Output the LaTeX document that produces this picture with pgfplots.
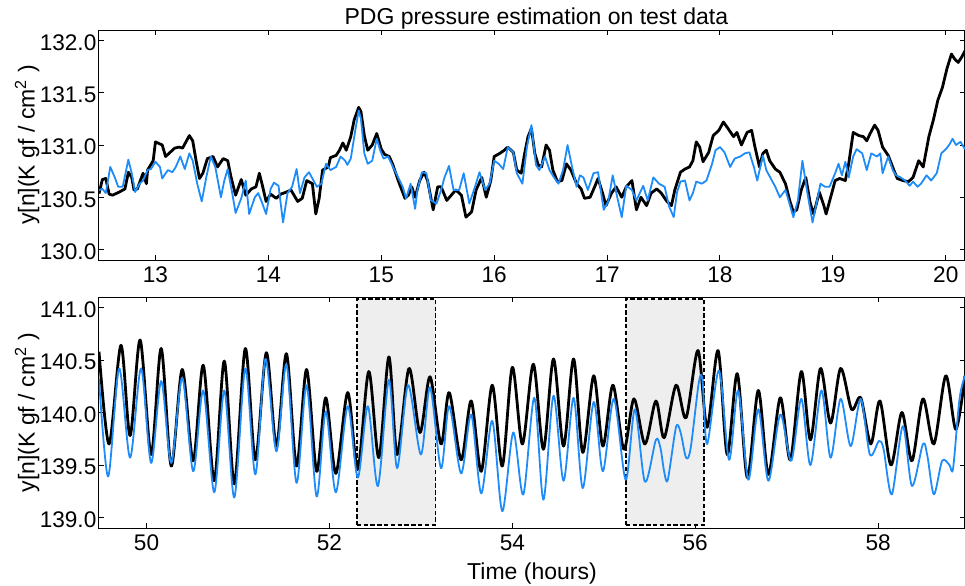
\documentclass[border=0pt]{standalone}
\usepackage{pgfplots}
\pgfplotsset{compat=1.18}
\usepackage{fontspec}
\setmainfont{Liberation Sans}
\definecolor{est}{RGB}{30,140,248}
\definecolor{shade}{RGB}{238,238,238}

\pgfplotsset{
  panel/.style={
    scale only axis, width=433pt,
    axis line style={black, line width=0.5pt},
    tick align=inside, major tick length=2.5pt,
    tick style={black, line width=0.5pt},
    xtick pos=both, ytick pos=both,
    /pgf/number format/assume math mode=true,
    tick label style={font=\fontsize{11.3}{13}\selectfont},
    label style={font=\fontsize{11.5}{13}\selectfont},
    ylabel style={at={(axis description cs:-0.083,0.5)}, anchor=center},
    yticklabel style={xshift=2.2pt, yshift=-1pt, /pgf/number format/fixed, /pgf/number format/fixed zerofill, /pgf/number format/precision=1},
  },
  truth/.style={black, line width=1.4pt, line join=round},
  pred/.style={est, line width=0.9pt, line join=round},
}

\begin{document}
\begin{tikzpicture}
\useasboundingbox (-49.5pt,-28.5pt) rectangle (433pt,264pt);

% ---------------- top panel ----------------
\begin{axis}[panel, at={(0,134pt)}, anchor=south west, height=115pt,
  xmin=12.5, xmax=20.17, ymin=129.9, ymax=132.1,
  xtick={13,14,15,16,17,18,19,20},
  ytick={130.0,130.5,131.0,131.5,132.0},
  ylabel={y[n](K gf / cm\textsuperscript{2} )},
  title={PDG pressure estimation on test data},
  title style={font=\fontsize{11.5}{13}\selectfont, at={(axis description cs:0.505,1)}, anchor=base, yshift=-3.4pt},
]
\addplot[truth] table {
12.50 130.535
12.53 130.67
12.56 130.68
12.59 130.53
12.62 130.52
12.68 130.55
12.73 130.58
12.76 130.74
12.79 130.69
12.81 130.57
12.84 130.58
12.89 130.73
12.92 130.63
12.93 130.76
12.98 130.85
13.00 131.03
13.04 131.01
13.06 131.00
13.09 130.89
13.12 130.92
13.17 130.97
13.21 130.98
13.24 130.97
13.30 131.09
13.33 131.04
13.36 130.85
13.39 130.68
13.42 130.73
13.46 130.87
13.51 130.89
13.55 130.79
13.60 130.87
13.64 130.85
13.67 130.69
13.71 130.52
13.76 130.67
13.80 130.52
13.85 130.58
13.89 130.60
13.92 130.73
13.95 130.60
13.98 130.46
14.02 130.53
14.07 130.49
14.11 130.53
14.16 130.55
14.20 130.57
14.26 130.46
14.30 130.49
14.34 130.66
14.39 130.63
14.42 130.34
14.45 130.49
14.48 130.76
14.53 130.79
14.55 130.88
14.60 130.90
14.63 130.95
14.66 131.02
14.69 130.95
14.73 131.08
14.76 131.24
14.80 131.36
14.82 131.32
14.85 131.09
14.88 130.95
14.92 131.00
14.96 131.11
15.00 130.96
15.03 130.91
15.07 130.89
15.10 130.82
15.15 130.66
15.21 130.49
15.24 130.52
15.27 130.60
15.30 130.50
15.34 130.66
15.38 130.74
15.41 130.66
15.46 130.38
15.50 130.60
15.53 130.60
15.58 130.47
15.62 130.52
15.66 130.57
15.71 130.52
15.75 130.31
15.80 130.36
15.84 130.57
15.89 130.69
15.93 130.50
15.97 130.66
16.00 130.89
16.05 130.92
16.09 130.95
16.12 130.98
16.17 130.93
16.20 130.76
16.24 130.73
16.27 130.92
16.30 131.08
16.33 131.16
16.36 130.92
16.39 130.81
16.42 130.79
16.46 131.00
16.49 130.95
16.52 130.76
16.56 130.65
16.60 130.66
16.64 130.82
16.68 130.76
16.73 130.63
16.77 130.58
16.80 130.49
16.85 130.50
16.89 130.60
16.92 130.68
16.96 130.54
16.99 130.42
17.04 130.54
17.08 130.60
17.13 130.50
17.17 130.60
17.22 130.66
17.26 130.38
17.30 130.50
17.35 130.42
17.39 130.54
17.44 130.58
17.48 130.54
17.53 130.46
17.57 130.42
17.60 130.57
17.65 130.74
17.69 130.77
17.73 130.79
17.76 130.85
17.79 131.03
17.82 130.98
17.85 130.84
17.90 130.93
17.94 131.09
17.99 131.14
18.03 131.22
18.07 131.16
18.12 131.08
18.15 131.12
18.19 131.00
18.24 131.12
18.28 131.14
18.31 130.98
18.35 130.79
18.38 130.92
18.41 130.95
18.44 130.85
18.49 130.77
18.53 130.74
18.58 130.63
18.62 130.46
18.65 130.36
18.68 130.38
18.72 130.57
18.76 130.69
18.80 130.44
18.83 130.34
18.88 130.55
18.92 130.42
18.94 130.34
18.97 130.46
19.02 130.66
19.06 130.68
19.11 130.66
19.14 130.82
19.18 131.12
19.23 131.09
19.27 131.08
19.30 131.04
19.33 131.11
19.37 131.19
19.40 131.14
19.44 130.98
19.49 130.90
19.54 130.76
19.57 130.68
19.62 130.66
19.67 130.65
19.71 130.69
19.76 130.85
19.80 130.79
19.85 131.08
19.89 131.24
19.93 131.43
19.97 131.55
20.01 131.73
20.05 131.87
20.08 131.82
20.11 131.79
20.14 131.84
20.17 131.90
};
\addplot[pred] table {
12.50 130.57
12.53 130.58
12.56 130.54
12.60 130.79
12.64 130.69
12.67 130.60
12.71 130.60
12.76 130.86
12.79 130.73
12.82 130.55
12.86 130.63
12.89 130.66
12.93 130.76
12.96 130.77
13.00 130.84
13.04 130.79
13.06 130.68
13.11 130.76
13.15 130.74
13.18 130.79
13.22 130.89
13.26 130.77
13.30 130.92
13.33 130.85
13.37 130.63
13.41 130.46
13.45 130.69
13.49 130.89
13.53 130.79
13.58 130.50
13.61 130.66
13.64 130.77
13.68 130.54
13.71 130.35
13.76 130.49
13.80 130.66
13.83 130.34
13.88 130.50
13.91 130.54
13.94 130.46
13.98 130.34
14.02 130.58
14.05 130.64
14.09 130.61
14.13 130.26
14.17 130.54
14.21 130.60
14.25 130.77
14.28 130.54
14.32 130.69
14.36 130.74
14.39 130.68
14.43 130.60
14.47 130.63
14.51 130.82
14.55 130.76
14.60 130.79
14.64 130.89
14.68 130.85
14.70 130.81
14.73 130.87
14.77 131.14
14.80 131.33
14.82 131.25
14.85 130.92
14.88 130.82
14.92 130.85
14.96 131.06
14.99 130.95
15.02 130.87
15.06 130.89
15.10 130.80
15.15 130.69
15.19 130.60
15.22 130.49
15.26 130.63
15.30 130.39
15.32 130.57
15.36 130.74
15.40 130.73
15.44 130.47
15.49 130.44
15.53 130.57
15.56 130.69
15.60 130.80
15.64 130.57
15.69 130.57
15.73 130.73
15.78 130.44
15.83 130.60
15.87 130.74
15.92 130.57
15.96 130.63
16.00 130.85
16.04 130.82
16.08 130.77
16.12 130.98
16.17 130.93
16.20 130.73
16.25 130.63
16.29 130.98
16.33 131.19
16.37 130.81
16.40 130.76
16.45 130.89
16.49 130.76
16.53 130.69
16.57 130.63
16.61 130.76
16.65 131.00
16.69 130.79
16.73 130.60
16.76 130.71
16.79 130.69
16.83 130.57
16.88 130.73
16.92 130.74
16.97 130.38
17.01 130.46
17.05 130.71
17.09 130.50
17.13 130.31
17.17 130.61
17.22 130.57
17.26 130.47
17.32 130.61
17.36 130.47
17.41 130.69
17.46 130.63
17.51 130.60
17.55 130.41
17.59 130.31
17.62 130.55
17.65 130.65
17.69 130.66
17.73 130.47
17.76 130.54
17.79 130.65
17.84 130.63
17.88 130.66
17.93 130.82
17.96 130.95
18.00 130.98
18.04 130.93
18.09 130.79
18.13 130.87
18.18 130.89
18.22 130.92
18.26 130.93
18.30 130.79
18.33 130.66
18.38 130.90
18.41 130.76
18.45 130.68
18.49 130.60
18.53 130.50
18.58 130.57
18.61 130.46
18.65 130.31
18.69 130.47
18.73 130.85
18.77 130.57
18.80 130.38
18.82 130.26
18.86 130.47
18.89 130.63
18.93 130.60
18.97 130.60
19.02 130.73
19.05 130.82
19.08 130.71
19.11 130.84
19.14 130.69
19.18 130.89
19.21 130.96
19.26 130.92
19.30 130.76
19.34 130.92
19.39 130.89
19.42 130.92
19.44 130.73
19.49 130.89
19.53 130.76
19.56 130.71
19.60 130.69
19.64 130.66
19.68 130.61
19.71 130.65
19.75 130.60
19.78 130.63
19.83 130.71
19.87 130.66
19.92 130.73
19.96 130.92
20.00 130.96
20.03 131.00
20.06 131.06
20.09 131.00
20.13 131.03
20.17 130.96
};
\end{axis}

% ---------------- bottom panel ----------------
\begin{axis}[panel, at={(0,0)}, anchor=south west, height=115.5pt,
  xmin=49.48, xmax=58.95, ymin=138.9, ymax=141.1,
  xtick={50,52,54,56,58},
  ytick={139.0,139.5,140.0,140.5,141.0},
  ylabel={y[n](K gf / cm\textsuperscript{2} )},
  xlabel={Time (hours)},
  xlabel style={yshift=1pt},
]
\addplot[fill=shade, draw=black, line width=0.9pt, dash pattern=on 2.2pt off 1.2pt] coordinates {
(52.30,138.93) (53.16,138.93) (53.16,141.08) (52.30,141.08)} -- cycle;
\addplot[fill=shade, draw=black, line width=0.9pt, dash pattern=on 2.2pt off 1.2pt] coordinates {
(55.24,138.93) (56.10,138.93) (56.10,141.08) (55.24,141.08)} -- cycle;
\addplot[truth, smooth] table {
49.48 140.58
49.59 139.70
49.72 140.64
49.82 139.78
49.93 140.69
50.05 139.60
50.16 140.61
50.27 139.49
50.39 140.41
50.51 139.54
50.62 140.45
50.74 139.35
50.85 140.49
50.96 139.32
51.08 140.61
51.19 139.55
51.31 140.57
51.42 139.68
51.53 140.56
51.64 139.49
51.75 140.41
51.86 139.44
51.96 140.14
52.07 139.42
52.20 140.19
52.31 139.46
52.43 140.39
52.54 139.57
52.65 140.53
52.74 139.60
52.87 140.42
52.99 139.81
53.10 140.34
53.22 139.70
53.31 140.19
53.44 139.55
53.55 140.11
53.66 139.44
53.78 140.26
53.89 139.49
54.00 140.43
54.11 139.70
54.23 140.46
54.34 139.65
54.45 140.51
54.56 139.68
54.67 140.51
54.77 139.62
54.89 140.35
54.99 139.68
55.10 140.26
55.22 139.65
55.33 140.13
55.45 139.70
55.57 140.11
55.66 139.76
55.79 140.26
55.90 139.95
56.03 140.59
56.13 139.86
56.25 140.59
56.35 139.60
56.46 140.37
56.57 139.38
56.69 140.21
56.80 139.41
56.93 140.14
57.04 139.55
57.16 140.39
57.26 139.74
57.37 140.42
57.48 139.90
57.59 140.42
57.71 140.03
57.81 140.14
57.92 139.70
58.02 140.11
58.14 139.50
58.26 140.00
58.37 139.54
58.49 140.13
58.61 139.70
58.74 140.35
58.85 139.84
58.95 140.35
};
\addplot[pred, smooth] table {
49.48 140.32
49.58 139.39
49.70 140.42
49.82 139.57
49.94 140.42
50.05 139.52
50.16 140.30
50.27 139.52
50.39 140.33
50.51 139.44
50.62 140.21
50.74 139.24
50.85 140.21
50.96 139.19
51.08 140.42
51.19 139.41
51.30 140.51
51.42 139.63
51.53 140.46
51.64 139.33
51.75 140.26
51.86 139.20
51.96 140.01
52.07 139.24
52.20 140.06
52.31 139.38
52.42 140.06
52.53 139.30
52.65 140.31
52.74 139.47
52.86 140.26
53.00 139.60
53.10 140.24
53.22 139.47
53.31 140.06
53.44 139.42
53.55 139.98
53.66 139.23
53.78 139.92
53.89 139.06
54.01 139.81
54.12 139.22
54.24 140.14
54.34 139.17
54.45 140.16
54.56 139.35
54.67 140.14
54.77 139.28
54.89 140.10
54.99 139.44
55.11 140.13
55.24 139.36
55.34 140.03
55.45 139.34
55.57 139.74
55.62 139.66
55.66 139.44
55.70 139.36
55.79 139.86
55.84 139.81
55.90 139.57
55.95 139.66
56.04 140.29
56.08 140.30
56.13 139.70
56.26 140.40
56.37 139.55
56.47 140.21
56.58 139.36
56.69 140.03
56.80 139.35
56.93 139.98
57.05 139.54
57.16 140.13
57.26 139.50
57.38 140.21
57.48 139.57
57.59 140.13
57.70 139.68
57.81 140.13
57.91 139.60
58.01 139.73
58.06 139.65
58.15 139.22
58.27 139.87
58.37 139.30
58.49 139.70
58.54 139.58
58.61 139.22
58.70 139.54
58.78 139.50
58.82 139.47
58.89 140.13
58.95 140.35
};
\end{axis}
\end{tikzpicture}
\end{document}
